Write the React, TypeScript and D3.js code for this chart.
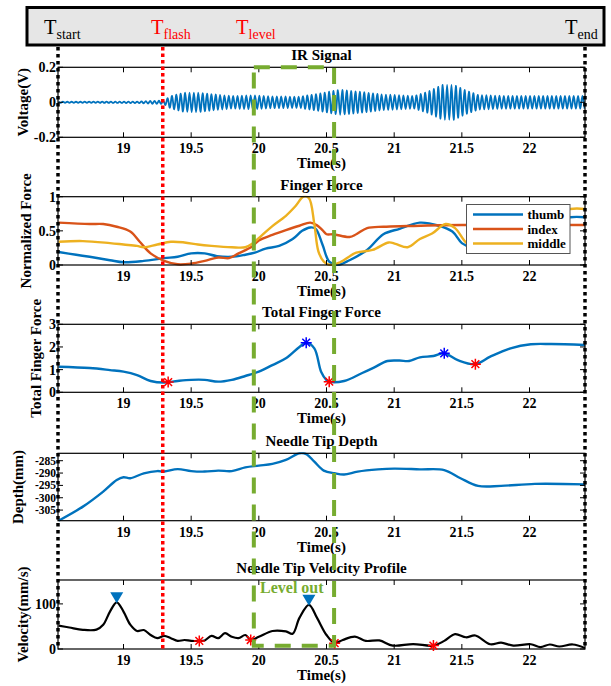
import { useEffect } from 'react';
import * as d3 from 'd3';

// time axis (s)
const T_MIN = 18.516;
const T_MAX = 22.41;
const xTicks = [19, 19.5, 20, 20.5, 21, 21.5, 22];

// event markers (s)
const tFlash = 19.29;
const tLevelStart = 19.963;
const tLevelEnd = 20.556;

// IR signal: envelope amplitude (V), carrier ~31 Hz
const irEnvelope: [number, number][] = [
  [18.52, 0.003], [19.1, 0.004], [19.2, 0.008], [19.3, 0.01], [19.35, 0.035],
  [19.45, 0.055], [19.55, 0.056], [19.65, 0.047], [19.8, 0.036], [19.95, 0.04],
  [20.1, 0.034], [20.3, 0.032], [20.45, 0.05], [20.6, 0.072], [20.75, 0.06],
  [20.9, 0.046], [21.05, 0.04], [21.15, 0.036], [21.25, 0.06], [21.36, 0.1],
  [21.44, 0.1], [21.52, 0.07], [21.62, 0.042], [21.8, 0.037], [22.0, 0.036],
  [22.2, 0.036], [22.41, 0.036]
];
const IR_FREQ = 31;

// finger force, normalized
const thumb: [number, number][] = [
  [18.52, 0.19], [18.65, 0.15], [18.75, 0.12], [18.9, 0.07], [19.0, 0.04], [19.15, 0.06],
  [19.3, 0.1], [19.4, 0.12], [19.5, 0.17], [19.6, 0.17], [19.69, 0.13], [19.8, 0.12],
  [19.9, 0.15], [19.97, 0.18], [20.05, 0.24], [20.15, 0.28], [20.25, 0.38], [20.32, 0.5],
  [20.38, 0.55], [20.42, 0.53], [20.47, 0.3], [20.52, 0.05], [20.58, 0.0], [20.67, 0.07],
  [20.8, 0.22], [20.92, 0.45], [21.04, 0.53], [21.19, 0.62], [21.33, 0.575], [21.43, 0.49],
  [21.5, 0.32], [21.56, 0.27], [21.7, 0.35], [21.9, 0.5], [22.1, 0.62], [22.3, 0.7], [22.41, 0.7]
];
const index: [number, number][] = [
  [18.52, 0.62], [18.75, 0.6], [18.85, 0.6], [18.95, 0.56], [19.05, 0.49], [19.12, 0.34],
  [19.2, 0.17], [19.3, 0.06], [19.4, 0.01], [19.5, 0.02], [19.6, 0.06], [19.7, 0.11],
  [19.78, 0.1], [19.85, 0.17], [19.95, 0.27], [20.0, 0.36], [20.1, 0.44], [20.2, 0.51],
  [20.3, 0.575], [20.38, 0.62], [20.43, 0.58], [20.47, 0.51], [20.5, 0.45], [20.55, 0.45],
  [20.67, 0.41], [20.72, 0.45], [20.8, 0.54], [20.92, 0.56], [21.1, 0.57], [21.5, 0.585],
  [22.41, 0.585]
];
const middle: [number, number][] = [
  [18.52, 0.34], [18.7, 0.35], [18.9, 0.32], [19.0, 0.3], [19.1, 0.28], [19.15, 0.26],
  [19.25, 0.3], [19.35, 0.34], [19.45, 0.33], [19.55, 0.3], [19.65, 0.28], [19.8, 0.26],
  [19.9, 0.26], [19.95, 0.31], [20.02, 0.43], [20.1, 0.57], [20.2, 0.72], [20.27, 0.86],
  [20.33, 1.0], [20.37, 0.98], [20.41, 0.6], [20.44, 0.2], [20.48, 0.05], [20.53, 0.0],
  [20.6, 0.04], [20.72, 0.18], [20.84, 0.22], [20.96, 0.33], [21.01, 0.31], [21.1, 0.26],
  [21.19, 0.38], [21.28, 0.46], [21.38, 0.6], [21.45, 0.54], [21.53, 0.33], [21.6, 0.25],
  [21.8, 0.45], [22.0, 0.65], [22.3, 0.82], [22.41, 0.82]
];

// total finger force
const totalForce: [number, number][] = [
  [18.52, 1.13], [18.75, 1.07], [18.9, 0.98], [19.0, 0.91], [19.1, 0.76], [19.2, 0.5],
  [19.3, 0.43], [19.4, 0.5], [19.5, 0.55], [19.6, 0.55], [19.7, 0.47], [19.8, 0.55],
  [19.9, 0.72], [20.0, 0.91], [20.1, 1.2], [20.2, 1.5], [20.3, 2.0], [20.35, 2.19],
  [20.41, 1.94], [20.46, 0.91], [20.5, 0.54], [20.52, 0.47], [20.63, 0.5], [20.76, 0.84],
  [20.85, 1.09], [20.95, 1.38], [21.04, 1.4], [21.11, 1.38], [21.19, 1.54], [21.29, 1.6],
  [21.37, 1.72], [21.47, 1.42], [21.6, 1.24], [21.71, 1.57], [21.86, 1.94], [22.01, 2.12],
  [22.16, 2.13], [22.41, 2.09]
];
const forcePeaks: [number, number][] = [[20.35, 2.19], [21.37, 1.72]];
const forceValleys: [number, number][] = [[19.33, 0.45], [20.52, 0.47], [21.6, 1.24]];

// needle tip depth (mm)
const depth: [number, number][] = [
  [18.52, -309.3], [18.7, -303.6], [18.85, -297.5], [18.95, -292.8], [19.0, -291.7],
  [19.05, -292.1], [19.15, -290.1], [19.25, -289.2], [19.3, -289.4], [19.4, -288.4],
  [19.5, -289.2], [19.6, -289.4], [19.7, -289], [19.8, -289.2], [19.9, -287.7], [20.0, -287],
  [20.1, -286.3], [20.2, -284.7], [20.3, -282], [20.35, -282.3], [20.41, -285.4],
  [20.48, -289], [20.56, -290.1], [20.63, -290.6], [20.73, -289.4], [20.88, -288.5],
  [21.0, -288.2], [21.19, -288.5], [21.37, -288.8], [21.49, -292.1], [21.62, -295.2],
  [21.79, -295.2], [22.04, -294.4], [22.41, -294.6]
];

// needle tip velocity (mm/s)
const velocity: [number, number][] = [
  [18.52, 52], [18.6, 47.7], [18.7, 42.5], [18.8, 43], [18.85, 53.7], [18.9, 83],
  [18.95, 103.6], [19.0, 83], [19.05, 54], [19.1, 40], [19.15, 42], [19.2, 31], [19.25, 24],
  [19.3, 29], [19.35, 24], [19.4, 18], [19.45, 20], [19.5, 18], [19.56, 18], [19.6, 19],
  [19.65, 29], [19.7, 24], [19.75, 35], [19.8, 27], [19.85, 24], [19.9, 31], [19.94, 20],
  [20.0, 27], [20.1, 40], [20.2, 39], [20.25, 34], [20.3, 69], [20.37, 98], [20.43, 69],
  [20.5, 31], [20.56, 13], [20.62, 20], [20.71, 27.5], [20.79, 18], [20.89, 19],
  [20.99, 7.5], [21.14, 11], [21.29, 7.5], [21.37, 18], [21.45, 33], [21.53, 26],
  [21.6, 30], [21.71, 10.5], [21.79, 14], [21.88, 7.5], [22.01, 10.5], [22.08, 4],
  [22.15, 10], [22.22, 5.6], [22.32, 10], [22.41, 2]
];
const velPeaks: [number, number][] = [[18.95, 103.6], [20.37, 98]];
const velValleys: [number, number][] = [[19.56, 18], [19.94, 20], [20.56, 13], [21.29, 7.5]];

const legendNames = ['thumb', 'index', 'middle'];
const COLORS = ['#0072bd', '#d95319', '#edb120'];
const GREEN = '#77ac30';
const FONT = '"Liberation Serif", "Times New Roman", serif';

const X_LEFT = 58;
const X_RIGHT = 585;

interface Panel {
  title: string;
  ylabel: string;
  ylabelX: number;
  top: number;
  bottom: number;
  domain: [number, number];
  ticks: number[];
  tickFont: number;
}

const panels: Panel[] = [
  { title: 'IR Signal', ylabel: 'Voltage(V)', ylabelX: 28, top: 67.3, bottom: 137.3, domain: [-0.2, 0.2], ticks: [-0.2, 0, 0.2], tickFont: 14 },
  { title: 'Finger Force', ylabel: 'Normalized Force', ylabelX: 31, top: 196.7, bottom: 265, domain: [0, 1], ticks: [0, 0.5, 1], tickFont: 14 },
  { title: 'Total Finger Force', ylabel: 'Total Finger Force', ylabelX: 41, top: 324.3, bottom: 392.3, domain: [0, 3], ticks: [0, 1, 2, 3], tickFont: 14 },
  { title: 'Needle Tip Depth', ylabel: 'Depth(mm)', ylabelX: 23, top: 453.3, bottom: 520.7, domain: [-309.3, -282], ticks: [-305, -300, -295, -290, -285], tickFont: 11.5 },
  { title: 'Needle Tip Velocity Profile', ylabel: 'Velocity(mm/s)', ylabelX: 28, top: 580, bottom: 649, domain: [0, 153], ticks: [0, 100], tickFont: 14 }
];

function buildIR(): [number, number][] {
  const env = d3.scaleLinear().domain(irEnvelope.map(d => d[0])).range(irEnvelope.map(d => d[1]));
  const pts: [number, number][] = [];
  const step = 1 / (2 * IR_FREQ);
  let k = 0;
  for (let t = 18.52; t <= T_MAX; t += step, k++) {
    pts.push([t, (k % 2 === 0 ? 1 : -1) * env(t)]);
  }
  return pts;
}

function star(cx: number, cy: number, color: string, key: string) {
  const r = 5.5, d = 3.9;
  return (
    <path key={key} transform={`translate(${cx},${cy})`}
      d={`M${-r},0H${r}M0,${-r}V${r}M${-d},${-d}L${d},${d}M${-d},${d}L${d},${-d}`}
      stroke={color} strokeWidth={1.5} fill="none" />
  );
}

export default function App() {
  useEffect(() => {
    document.body.style.margin = '0';
  }, []);

  const x = d3.scaleLinear().domain([T_MIN, T_MAX]).range([X_LEFT, X_RIGHT]);
  const ys = panels.map(p => d3.scaleLinear().domain(p.domain).range([p.bottom, p.top]));
  const mkLine = (y: d3.ScaleLinear<number, number>, curve: d3.CurveFactory = d3.curveCatmullRom) =>
    d3.line<[number, number]>().x(d => x(d[0])).y(d => y(d[1])).curve(curve);

  const irData = buildIR();
  const fmt = (v: number) => (v < 0 ? '-' : '') + String(Math.abs(v));

  const firstTop = panels[0].top;
  const lastBottom = panels[panels.length - 1].bottom;

  return (
    <svg width={611} height={686} style={{ display: 'block', background: '#fff' }} fontFamily={FONT}>
      <defs>
        {panels.map((p, i) => (
          <clipPath id={`clip${i}`} key={i}>
            <rect x={X_LEFT} y={p.top - 1} width={X_RIGHT - X_LEFT} height={p.bottom - p.top + 2} />
          </clipPath>
        ))}
      </defs>

      {panels.map((p, i) => {
        const y = ys[i];
        return (
          <g key={p.title}>
            {/* data */}
            <g clipPath={`url(#clip${i})`}>
              {i === 0 && (
                <path d={mkLine(y, d3.curveCardinal)(irData) || ''} fill="none" stroke={COLORS[0]} strokeWidth={1.8} />
              )}
              {i === 1 && [thumb, index, middle].map((s, j) => (
                <path key={j} d={mkLine(y)(s) || ''} fill="none" stroke={COLORS[j]} strokeWidth={2.4} />
              ))}
              {i === 2 && (
                <path d={mkLine(y)(totalForce) || ''} fill="none" stroke={COLORS[0]} strokeWidth={2.4} />
              )}
              {i === 3 && (
                <path d={mkLine(y)(depth) || ''} fill="none" stroke={COLORS[0]} strokeWidth={2.4} />
              )}
              {i === 4 && (
                <path d={mkLine(y)(velocity) || ''} fill="none" stroke="#000" strokeWidth={2.2} />
              )}
            </g>

            {/* box + ticks */}
            <rect x={X_LEFT} y={p.top} width={X_RIGHT - X_LEFT} height={p.bottom - p.top} fill="none" stroke="#000" strokeWidth={1.2} />
            {xTicks.map(t => (
              <g key={t}>
                <line x1={x(t)} x2={x(t)} y1={p.bottom} y2={p.bottom - 5} stroke="#000" strokeWidth={1} />
                <line x1={x(t)} x2={x(t)} y1={p.top} y2={p.top + 5} stroke="#000" strokeWidth={1} />
                <text x={x(t)} y={p.bottom + 16} textAnchor="middle" fontSize={14} fontWeight="bold">{t}</text>
              </g>
            ))}
            {p.ticks.map(v => (
              <g key={v}>
                <line x1={X_LEFT} x2={X_LEFT + 5} y1={y(v)} y2={y(v)} stroke="#000" strokeWidth={1} />
                <line x1={X_RIGHT} x2={X_RIGHT - 5} y1={y(v)} y2={y(v)} stroke="#000" strokeWidth={1} />
                <text x={X_LEFT - 2} y={y(v) + p.tickFont * 0.35} textAnchor="end" fontSize={p.tickFont} fontWeight="bold">{fmt(v)}</text>
              </g>
            ))}

            <text x={(X_LEFT + X_RIGHT) / 2} y={p.top - 7} textAnchor="middle" fontSize={15} fontWeight="bold">{p.title}</text>
            <text x={(X_LEFT + X_RIGHT) / 2} y={p.bottom + 31} textAnchor="middle" fontSize={15} fontWeight="bold">Time(s)</text>
            <text transform={`translate(${p.ylabelX},${(p.top + p.bottom) / 2}) rotate(-90)`} textAnchor="middle" fontSize={15} fontWeight="bold">{p.ylabel}</text>

            {/* markers */}
            {i === 2 && forcePeaks.map((d, j) => star(x(d[0]), y(d[1]), '#0000ff', `fp${j}`))}
            {i === 2 && forceValleys.map((d, j) => star(x(d[0]), y(d[1]), '#ff0000', `fv${j}`))}
            {i === 4 && velPeaks.map((d, j) => (
              <path key={`vp${j}`} transform={`translate(${x(d[0])},${y(d[1])})`} d="M-6.5,-10L6.5,-10L0,1Z" fill={COLORS[0]} />
            ))}
            {i === 4 && velValleys.map((d, j) => star(x(d[0]), y(d[1]), '#ff0000', `vv${j}`))}

            {/* legend */}
            {i === 1 && (
              <g>
                <rect x={466.5} y={204.5} width={103.5} height={49} fill="#fff" stroke="#555" strokeWidth={1} />
                {legendNames.map((n, j) => (
                  <g key={n}>
                    <line x1={473} x2={523} y1={214.5 + j * 14.5} y2={214.5 + j * 14.5} stroke={COLORS[j]} strokeWidth={2.4} />
                    <text x={527.5} y={219 + j * 14.5} fontSize={13} fontWeight="bold">{n}</text>
                  </g>
                ))}
              </g>
            )}
          </g>
        );
      })}

      {/* level-out window */}
      <rect x={x(tLevelStart)} y={firstTop} width={x(tLevelEnd) - x(tLevelStart)} height={645.7 - firstTop}
        fill="none" stroke={GREEN} strokeWidth={4} strokeDasharray="16,11" />
      <text x={260} y={593} fontSize={16} fontWeight="bold" fill={GREEN}>Level out</text>

      {/* time markers */}
      <line x1={x(tFlash)} x2={x(tFlash)} y1={47} y2={lastBottom + 1} stroke="#ff0000" strokeWidth={3.5} strokeDasharray="3.5,3" />
      <line x1={X_LEFT} x2={X_LEFT} y1={47} y2={lastBottom} stroke="#000" strokeWidth={3.5} strokeDasharray="3.5,3.5" />
      <line x1={X_RIGHT} x2={X_RIGHT} y1={47} y2={lastBottom} stroke="#000" strokeWidth={3.5} strokeDasharray="3.5,3.5" />

      {/* header */}
      <rect x={27} y={7.5} width={577} height={37.5} fill="#e6e6e6" stroke="#000" strokeWidth={3} />
      <text x={44} y={34} fontSize={20.5}>T<tspan fontSize={14} dy={5}>start</tspan></text>
      <text x={151} y={34} fontSize={20.5} fill="#ff0000">T<tspan fontSize={14} dy={5}>flash</tspan></text>
      <text x={236} y={34} fontSize={20.5} fill="#ff0000">T<tspan fontSize={14} dy={5}>level</tspan></text>
      <text x={565} y={34} fontSize={20.5}>T<tspan fontSize={14} dy={5}>end</tspan></text>
    </svg>
  );
}
